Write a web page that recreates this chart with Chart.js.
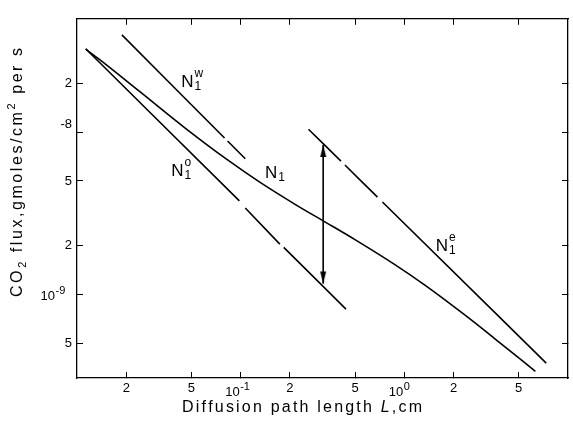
<!DOCTYPE html>
<html lang="en">

<head>
    <meta charset="UTF-8">
    <title>CO2 flux vs diffusion path length</title>
    <script src="https://cdn.jsdelivr.net/npm/chart.js"></script>
    <style>
        body { margin: 0; background: #fff; }
    </style>
</head>

<body>
    <canvas id="fluxChart" width="573" height="428"></canvas>

    <script>
        // values (L in cm, flux in gmoles/cm2 per s)
        const n1Length = [0.0113, 0.0137, 0.0240, 0.0458, 0.0832, 0.1315, 0.220, 0.333, 0.505, 0.880, 1.335, 2.33, 3.53, 6.32];
        const n1Flux = [3.25e-8, 2.81e-8, 1.79e-8, 1.06e-8, 6.74e-9, 4.90e-9, 3.54e-9, 2.77e-9, 2.16e-9, 1.52e-9, 1.14e-9, 7.49e-10, 5.38e-10, 3.35e-10];

        // null = break in the printed line
        const n1oLength = [0.0113, 0.0982, 0.102, 0.1067, 0.1735, 0.178, 0.1833, 0.440];
        const n1oFlux = [3.27e-8, 3.77e-9, null, 3.41e-9, 2.04e-9, null, 1.95e-9, 8.11e-10];

        const n1wLength = [0.0188, 0.0797, 0.081, 0.0832, 0.1067];
        const n1wFlux = [3.98e-8, 9.2e-9, null, 8.82e-9, 6.86e-9];

        const n1eLength = [0.2595, 0.410, 0.42, 0.4336, 0.6855, 0.71, 0.7349, 7.36];
        const n1eFlux = [1.043e-8, 6.63e-9, null, 6.27e-9, 3.98e-9, null, 3.71e-9, 3.77e-10];

        const arrowLength = [0.3195, 0.3195];
        const arrowFlux = [8.34e-9, 1.166e-9];

        const labelLength = [0.0433, 0.0377, 0.1409, 1.555];
        const labelFlux = [1.90e-8, 5.34e-9, 5.19e-9, 1.85e-9];
        const labelSup = ['w', 'o', '', 'e'];

        const xTicks = [0.02, 0.05, 0.1, 0.2, 0.5, 1, 2, 5];
        const xTickLabels = ['2', '5', '10^-1', '2', '5', '10^0', '2', '5'];
        const yTicks = [5e-10, 1e-9, 2e-9, 5e-9, 1e-8, 2e-8];
        const yTickLabels = ['5', '10^-9', '2', '5', ['-8', ''], '2'];

        const FONT = '"Liberation Sans", Arial, sans-serif';

        function points(xs, ys) {
            return xs.map((x, i) => ({ x: x, y: ys[i] }));
        }

        function lineSet(xs, ys) {
            return {
                data: points(xs, ys),
                showLine: true,
                borderColor: '#000',
                borderWidth: 1.6,
                pointRadius: 0,
                spanGaps: false,
                cubicInterpolationMode: 'monotone'
            };
        }

        // arrow head with its tip at the centre of the canvas
        function arrowHead() {
            const c = document.createElement('canvas');
            c.width = 8;
            c.height = 26;
            const g = c.getContext('2d');
            g.fillStyle = '#000';
            g.beginPath();
            g.moveTo(4, 13);
            g.lineTo(1, 25);
            g.lineTo(7, 25);
            g.closePath();
            g.fill();
            return c;
        }

        // text with sub/superscripts, stretched to a given width
        function drawRich(ctx, parts, x, y, width) {
            let natural = 0, count = 0;
            parts.forEach(p => {
                ctx.font = (p[3] || '') + ' ' + p[1] + 'px ' + FONT;
                for (const ch of p[0]) { natural += ctx.measureText(ch).width; count++; }
            });
            const gap = (width - natural) / (count - 1);
            let cx = x;
            parts.forEach(p => {
                ctx.font = (p[3] || '') + ' ' + p[1] + 'px ' + FONT;
                for (const ch of p[0]) {
                    ctx.fillText(ch, cx, y + p[2]);
                    cx += ctx.measureText(ch).width + gap;
                }
            });
        }

        // "10^n" tick labels: base and raised exponent
        function drawPower(ctx, label, baseRight, baseline) {
            const [base, exp] = label.split('^');
            ctx.font = '13px ' + FONT;
            ctx.textAlign = 'right';
            ctx.fillText(base, baseRight, baseline);
            ctx.font = '11px ' + FONT;
            ctx.textAlign = 'left';
            ctx.fillText(exp, baseRight + 0.5, baseline - 6);
        }

        const xTitle = [['Diffusion path length ', 16, 0], ['L', 16, 0, 'italic'], [',cm', 16, 0]];
        const yTitle = [['CO', 16, 0], ['2', 11, 4], [' flux,gmoles/cm', 16, 0], ['2', 11, -7], [' per s', 16, 0]];

        const annotations = {
            id: 'annotations',
            afterDraw(chart) {
                const ctx = chart.ctx;
                const xs = chart.scales.x, ys = chart.scales.y;
                ctx.save();
                ctx.fillStyle = '#000';
                ctx.textAlign = 'left';
                ctx.textBaseline = 'alphabetic';
                labelLength.forEach((len, i) => {
                    const px = xs.getPixelForValue(len);
                    const py = ys.getPixelForValue(labelFlux[i]);
                    ctx.font = '17px ' + FONT;
                    ctx.fillText('N', px, py);
                    const w = ctx.measureText('N').width + 1;
                    ctx.font = '12px ' + FONT;
                    ctx.fillText('1', px + w, py + 3);
                    if (labelSup[i]) ctx.fillText(labelSup[i], px + w, py - 10);
                });
                xTicks.forEach((v, i) => {
                    if (typeof xTickLabels[i] === 'string' && xTickLabels[i].includes('^'))
                        drawPower(ctx, xTickLabels[i], xs.getPixelForValue(v) - 1, xs.bottom - 32);
                });
                yTicks.forEach((v, i) => {
                    if (typeof yTickLabels[i] === 'string' && yTickLabels[i].includes('^'))
                        drawPower(ctx, yTickLabels[i], ys.left + 55, ys.getPixelForValue(v) + 6);
                });
                ctx.textAlign = 'left';
                drawRich(ctx, xTitle, 182, 412, 240);
                ctx.translate(22, 297);
                ctx.rotate(-Math.PI / 2);
                drawRich(ctx, yTitle, 0, 0, 249);
                ctx.restore();
            }
        };

        const tickGrid = {
            drawOnChartArea: false,
            drawTicks: true,
            tickLength: -6,
            tickColor: '#000',
            tickWidth: 1
        };
        const axisBorder = { display: true, color: '#000', width: 1.3 };
        const plainLabel = list => (v, i) => (typeof list[i] === 'string' && list[i].includes('^')) ? '' : list[i];

        const ctx = document.getElementById('fluxChart').getContext('2d');
        new Chart(ctx, {
            type: 'scatter',
            data: {
                datasets: [
                    lineSet(n1Length, n1Flux),
                    lineSet(n1oLength, n1oFlux),
                    lineSet(n1wLength, n1wFlux),
                    lineSet(n1eLength, n1eFlux),
                    {
                        data: points(arrowLength, arrowFlux),
                        showLine: true,
                        borderColor: '#000',
                        borderWidth: 1,
                        pointRadius: 3,
                        pointStyle: arrowHead(),
                        rotation: [0, 180]
                    }
                ]
            },
            options: {
                responsive: false,
                animation: false,
                layout: { padding: { top: 13, right: 1, left: 0, bottom: 0 } },
                plugins: { legend: { display: false }, tooltip: { enabled: false } },
                scales: {
                    x: {
                        type: 'logarithmic',
                        min: 0.01,
                        max: 10,
                        bounds: 'data',
                        grid: tickGrid,
                        border: axisBorder,
                        afterBuildTicks: s => { s.ticks = xTicks.map(v => ({ value: v })); },
                        afterFit: s => { s.height = 50; },
                        ticks: {
                            autoSkip: false,
                            maxRotation: 0,
                            padding: 9,
                            color: '#000',
                            font: { family: FONT, size: 13 },
                            callback: plainLabel(xTickLabels)
                        }
                    },
                    y: {
                        type: 'logarithmic',
                        min: 3.05e-10,
                        max: 5e-8,
                        bounds: 'data',
                        grid: tickGrid,
                        border: axisBorder,
                        afterBuildTicks: s => { s.ticks = yTicks.map(v => ({ value: v })); },
                        afterFit: s => { s.width = 77; },
                        ticks: {
                            autoSkip: false,
                            padding: 11,
                            color: '#000',
                            font: { family: FONT, size: 13 },
                            callback: plainLabel(yTickLabels)
                        }
                    },
                    x2: {
                        type: 'logarithmic',
                        position: 'top',
                        min: 0.01,
                        max: 10,
                        bounds: 'data',
                        grid: tickGrid,
                        border: axisBorder,
                        afterBuildTicks: s => { s.ticks = xTicks.map(v => ({ value: v })); },
                        afterFit: s => { s.height = 0; },
                        ticks: { display: false }
                    },
                    y2: {
                        type: 'logarithmic',
                        position: 'right',
                        min: 3.05e-10,
                        max: 5e-8,
                        bounds: 'data',
                        grid: tickGrid,
                        border: axisBorder,
                        afterBuildTicks: s => { s.ticks = yTicks.map(v => ({ value: v })); },
                        afterFit: s => { s.width = 0; },
                        ticks: { display: false }
                    }
                }
            },
            plugins: [annotations]
        });
    </script>
</body>

</html>
